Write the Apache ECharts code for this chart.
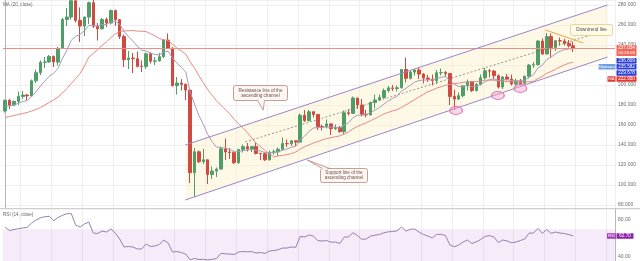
<!DOCTYPE html>
<html>
<head>
<meta charset="utf-8">
<script src="https://cdn.jsdelivr.net/npm/echarts@6.0.0/dist/echarts.min.js"></script>
<style>
html,body{margin:0;padding:0;background:#ffffff;overflow:hidden}
#chart{width:640px;height:261px}
</style>
</head>
<body>
<div id="chart"></div>
<script>
// ---------- data ----------
const categories = ['Jan 30','Jan 31',
'Feb 1','Feb 2','Feb 3','Feb 4','Feb 5','Feb 6','Feb 7','Feb 8','Feb 9','Feb 10','Feb 11','Feb 12','Feb 13','Feb 14','Feb 15','Feb 16','Feb 17','Feb 18','Feb 19','Feb 20','Feb 21','Feb 22','Feb 23','Feb 24','Feb 25','Feb 26','Feb 27','Feb 28','Feb 29',
'Mar 1','Mar 2','Mar 3','Mar 4','Mar 5','Mar 6','Mar 7','Mar 8','Mar 9','Mar 10','Mar 11','Mar 12','Mar 13','Mar 14','Mar 15','Mar 16','Mar 17','Mar 18','Mar 19','Mar 20','Mar 21','Mar 22','Mar 23','Mar 24','Mar 25','Mar 26','Mar 27','Mar 28','Mar 29','Mar 30','Mar 31',
'Apr 1','Apr 2','Apr 3','Apr 4','Apr 5','Apr 6','Apr 7','Apr 8','Apr 9','Apr 10','Apr 11','Apr 12','Apr 13','Apr 14','Apr 15','Apr 16','Apr 17','Apr 18','Apr 19','Apr 20','Apr 21','Apr 22','Apr 23','Apr 24','Apr 25','Apr 26','Apr 27','Apr 28','Apr 29','Apr 30',
'May 1','May 2','May 3','May 4','May 5','May 6','May 7','May 8','May 9','May 10','May 11','May 12','May 13','May 14','May 15','May 16','May 17','May 18','May 19','May 20','May 21','May 22','May 23','May 24','May 25','May 26','May 27','May 28','May 29','May 30','May 31',
'Jun 1','Jun 2','Jun 3','Jun 4','Jun 5','Jun 6','Jun 7','Jun 8','Jun 9','Jun 10','Jun 11','Jun 12','Jun 13','Jun 14','Jun 15','Jun 16'];

const openPrices = [174.0,184.7,179.9,183.6,188.6,189.9,189.1,204.2,212.3,222.7,223.1,228.6,222.9,236.7,265.4,268.0,284.2,264.7,258.9,267.9,282.3,258.8,256.2,265.5,262.0,274.4,265.3,248.4,225.3,227.0,226.3,218.7,218.6,231.2,223.8,224.1,228.3,244.9,237.0,199.4,202.0,200.7,194.9,112.3,133.2,123.3,125.2,110.6,113.9,115.9,136.2,133.0,132.5,122.3,135.6,138.3,136.1,138.4,131.6,131.3,125.2,132.4,133.2,135.7,141.4,141.2,144.2,142.9,169.7,164.4,173.2,170.6,158.4,158.1,161.1,156.3,157.6,153.3,172.2,171.6,186.9,180.0,170.8,170.1,182.5,185.0,187.5,194.4,197.1,196.4,197.2,215.5,206.7,212.9,215.0,210.9,206.9,205.8,204.3,212.3,212.4,211.5,188.6,185.9,189.3,199.2,203.2,194.5,200.7,207.2,214.2,213.9,209.3,198.0,208.0,206.0,201.0,204.1,201.5,208.7,219.9,220.3,243.9,231.0,248.4,237.5,244.3,244.0,241.6,239.2];
const closePrices = [184.7,179.9,183.6,188.6,189.9,189.1,204.2,212.3,222.7,223.1,228.6,222.9,236.7,265.4,268.0,284.2,264.7,258.9,267.9,282.3,258.8,256.2,265.5,262.0,274.4,265.3,248.4,225.3,227.0,226.3,218.7,218.6,231.2,223.8,224.1,228.3,244.9,237.0,199.4,202.0,200.7,194.9,112.3,133.2,123.3,125.2,110.6,113.9,115.9,136.2,133.0,132.5,122.3,135.6,138.3,136.1,138.4,131.6,131.3,125.2,132.4,133.2,135.7,141.4,141.2,144.2,142.9,169.7,164.4,173.2,170.6,158.4,158.1,161.1,156.3,157.6,153.3,172.2,171.6,186.9,180.0,170.8,170.1,182.5,185.0,187.5,194.4,197.1,196.4,197.2,215.5,206.7,212.9,215.0,210.9,206.9,205.8,204.3,212.3,212.4,211.5,188.6,185.9,189.3,199.2,203.2,194.5,200.7,207.2,214.2,213.9,209.3,198.0,208.0,206.0,201.0,204.1,201.5,208.7,219.9,220.3,243.9,231.0,248.4,237.5,244.3,244.0,241.6,239.2,237.05];
const highPrices = [185.5,186.0,184.5,193.5,194.0,191.0,205.5,215.5,224.5,228.0,230.0,229.5,238.0,267.0,277.0,286.0,289.0,277.5,268.5,283.5,285.5,262.0,267.0,267.5,275.5,275.5,266.0,250.5,234.0,232.0,233.5,224.5,232.5,232.5,228.0,232.0,245.5,251.5,237.5,208.0,206.0,201.5,195.5,137.0,134.5,136.0,125.5,118.5,117.5,138.5,146.5,137.0,134.5,136.0,140.5,142.0,139.0,142.0,132.0,132.0,134.5,135.5,137.5,147.5,145.5,145.0,144.5,171.5,175.0,175.0,174.0,170.8,160.5,165.5,161.5,160.5,159.0,174.5,175.5,188.5,187.5,186.0,175.0,183.5,190.5,190.5,196.5,199.0,200.0,199.5,216.0,227.5,214.5,216.0,218.0,212.0,210.0,210.5,215.0,216.5,214.0,212.0,195.5,192.5,200.0,205.5,204.0,202.0,210.5,217.0,216.0,215.0,210.5,209.0,211.0,210.5,206.5,206.0,209.5,221.0,223.0,245.0,246.5,252.0,251.5,245.0,247.5,246.0,245.0,243.5];
const lowPrices = [172.5,176.0,179.0,180.0,186.0,185.0,188.5,202.0,210.0,217.0,222.0,218.0,219.5,236.0,259.0,265.5,262.5,243.0,249.0,261.0,257.0,244.5,255.5,258.0,260.5,259.0,246.0,218.0,216.0,212.0,217.5,213.0,216.0,221.5,220.0,223.5,227.0,236.0,198.5,190.5,194.5,185.0,102.0,88.0,122.0,121.0,101.0,106.0,108.0,115.5,125.0,126.0,121.0,121.0,132.5,133.5,133.0,130.5,125.0,124.0,124.5,130.5,129.0,134.5,138.0,139.0,139.0,142.5,163.0,163.5,167.5,155.0,154.5,156.5,150.0,155.0,152.5,150.5,169.5,171.0,176.0,168.5,167.5,169.5,176.5,184.5,186.5,192.5,194.0,193.5,196.5,202.5,205.5,209.5,206.0,201.5,203.0,199.5,201.0,209.5,208.0,180.0,175.0,185.0,187.5,194.5,193.0,193.5,199.5,205.5,207.5,205.5,196.5,196.0,204.5,199.5,198.0,199.5,200.5,206.5,217.0,219.5,230.0,230.5,228.0,234.0,239.5,239.5,237.5,233.0];

// MA(20) values for the first 19 days (window starts before the visible range)
const ma20Lead = [167.5,168.5,169.5,170.5,171.5,172.5,174.0,175.5,177.5,180.0,182.5,185.0,188.0,192.0,196.5,201.5,206.5,211.5,219.0];
// EMA(9) value on the day before the first candle
const ema9Start = 177.5;

// RSI (14, close)
const rsiValues = [72.1,68.6,69.7,70.6,71.4,72.1,76.8,80.0,82.4,83.5,84.1,79.2,82.8,85.1,86.7,87.0,74.6,72.4,75.7,77.8,65.9,65.4,68.1,67.0,70.3,65.9,59.5,50.8,51.4,50.8,48.7,48.7,54.1,51.4,51.9,53.5,58.4,55.1,45.4,45.9,44.9,43.2,37.0,38.4,37.3,37.5,36.8,37.5,38.4,44.0,43.5,43.2,42.7,45.4,45.9,45.6,45.9,44.3,44.9,43.8,46.5,47.0,47.8,49.7,49.7,50.8,50.6,62.2,61.6,63.8,62.5,57.8,57.3,57.8,56.0,56.2,54.6,61.6,61.8,66.3,63.2,59.1,59.5,62.7,63.6,64.3,66.2,67.2,67.6,68.3,72.4,68.1,69.9,70.3,67.0,64.3,62.7,60.5,64.5,64.5,63.2,53.0,51.1,53.0,56.2,58.4,54.6,56.5,58.9,62.2,63.2,61.6,55.7,58.4,57.3,55.4,56.2,57.8,59.5,65.9,65.9,71.0,65.6,69.7,65.6,67.0,65.9,65.4,64.3,62.7];
const rsiBand = [70, 30];
const rsiTickLabels = [40, 80];

// right-axis price tags (values shown in the tags)
const lastPrice = 237.054;
const countdownText = '06:28:08';
const tagValues = [236.809, 235.582, 229.678, 222.950];
const tagNames = ['', 'Fibonacci', '', 'MA'];
const rsiTagText = 'RSI';

// drawings, in [day index, price]
const upperChannel = [[40.9, 140], [136.8, 280]];
const lowerChannel = [[40.9, 85], [136.8, 228]];
const midDashed = [[54.5, 143], [134.5, 252]];
const downtrendLine = [[122.7, 255], [131.3, 242]];
const touchMarks = [[102.4, 174.5], [111.9, 189.5], [117.0, 196.5]];
const calloutTexts = [['Resistance line of the', 'ascending channel'], ['Support line of the', 'ascending channel'], ['Downtrend line']];
const calloutAnchors = [[51.8, 200], [71.6, 117], [128.2, 261]];
const calloutTips = [[58.6, 175], [68.6, 125], null];

// ---------- indicators ----------
function movingAverage(src, n, lead) {
  return src.map((v, i) => {
    if (i < n - 1) return lead[i];
    const s = src.slice(i - n + 1, i + 1);
    return +(s.reduce((a, b) => a + b, 0) / n).toFixed(3);
  });
}
function expAverage(src, n, start) {
  const k = 2 / (n + 1); const out = []; let e = start;
  src.forEach((v) => { e = e + k * (v - e); out.push(+e.toFixed(3)); });
  return out;
}
const ma20 = movingAverage(closePrices, 20, ma20Lead);
const ema9 = expAverage(closePrices, 9, ema9Start);

const candleData = openPrices.map((o, i) => [o, closePrices[i], lowPrices[i], highPrices[i]]);
const N = categories.length;
const FONT = 'Liberation Sans, Arial, sans-serif';

const chart = echarts.init(document.getElementById('chart'), null, {renderer: 'canvas'});

const weekly = (idx) => idx % 7 === 4;
const xCat = (g) => ({
  type: 'category', gridIndex: g, data: categories, boundaryGap: true,
  axisLine: {show: false}, axisTick: {show: false}, axisLabel: {show: false},
  splitLine: {show: true, interval: weekly, lineStyle: {color: '#efefef', width: 1}}
});

function annotationsRender(params, api) {
  const P = (d) => api.coord(d);
  const ch = [];
  const lineEl = (a, b, color, w, dash) => ({type: 'line', shape: {x1: P(a)[0], y1: P(a)[1], x2: P(b)[0], y2: P(b)[1]},
    style: {stroke: color, lineWidth: w, lineDash: dash || null}});
  ch.push(lineEl(upperChannel[0], upperChannel[1], '#9a86c8', 1));
  ch.push(lineEl(lowerChannel[0], lowerChannel[1], '#9a86c8', 1));
  ch.push(lineEl(midDashed[0], midDashed[1], '#7a7a7a', 0.8, [2, 2]));
  ch.push(lineEl(downtrendLine[0], downtrendLine[1], '#f0a640', 1));
  touchMarks.forEach((m) => {
    const c = P(m);
    ch.push({type: 'circle', x: c[0], y: c[1], scaleX: 1.6, scaleY: 1, shape: {cx: 0, cy: 0, r: 4},
      style: {fill: 'rgba(244,164,205,0.45)', stroke: '#e07ab0', lineWidth: 0.8, strokeNoScale: true}});
  });
  const sizes = [[54, 15], [47, 14], [42, 11]];
  const styles = [
    {fill: '#fdf6f3', stroke: '#b9877c', text: '#6d5048'},
    {fill: '#fdf6f3', stroke: '#b9877c', text: '#6d5048'},
    {fill: '#fffbe9', stroke: '#e9c883', text: '#4b4b4b'}
  ];
  calloutTexts.forEach((lines, k) => {
    const a = P(calloutAnchors[k]);
    const bx = Math.round(a[0]) + 0.5, by = Math.round(a[1]) + 0.5;
    const w = sizes[k][0], h = sizes[k][1], st = styles[k];
    ch.push({type: 'rect', shape: {x: bx, y: by, width: w, height: h, r: 2}, style: {fill: st.fill, stroke: st.stroke, lineWidth: 0.8}});
    if (calloutTips[k]) {
      const t = P(calloutTips[k]);
      let b1, b2;
      if (k === 0) { b1 = [bx + 24, by + h]; b2 = [bx + 31, by + h]; }
      else { b1 = [bx + 2, by]; b2 = [bx + 9, by]; }
      ch.push({type: 'polygon', shape: {points: [[b1[0], b1[1] + (k === 0 ? -1 : 1)], t, [b2[0], b2[1] + (k === 0 ? -1 : 1)]]}, style: {fill: st.fill}});
      ch.push({type: 'polyline', shape: {points: [b1, t, b2]}, style: {stroke: st.stroke, lineWidth: 0.8, fill: null}});
    }
    const lh = 5.4;
    lines.forEach((txt, j) => {
      ch.push({type: 'text', x: bx + w / 2, y: by + h / 2 + (j - (lines.length - 1) / 2) * lh,
        style: {text: txt, fill: st.text, fontSize: 4.6, fontFamily: FONT, align: 'center', verticalAlign: 'middle'}});
    });
  });
  return {type: 'group', children: ch};
}

function channelFillRender(params, api) {
  const P0 = (d) => api.coord(d);
  const pts = [P0(upperChannel[0]), P0(upperChannel[1]), P0(lowerChannel[1]), P0(lowerChannel[0])];
  return {type: 'polygon', shape: {points: pts}, style: {fill: 'rgba(252,240,196,0.42)'}};
}

const option = {
  animation: false,
  backgroundColor: '#ffffff',
  grid: [
    {left: 3, right: 25, top: 0, height: 208},
    {left: 3, right: 25, top: 209, height: 52}
  ],
  xAxis: [xCat(0), xCat(1),
    {type: 'value', gridIndex: 0, min: -0.5, max: N - 0.5, show: false}],
  yAxis: [
    {type: 'value', gridIndex: 0, position: 'right', min: 77, max: 285, splitNumber: 10,
      axisLine: {show: true, lineStyle: {color: '#b8b8b8'}}, axisTick: {show: false},
      axisLabel: {fontSize: 5, color: '#6b6b6b', fontFamily: FONT, margin: 3, showMinLabel: false, showMaxLabel: false,
        formatter: (v) => v.toFixed(3)},
      splitLine: {show: true, lineStyle: {color: '#efefef'}}},
    {type: 'value', gridIndex: 1, position: 'right', min: 35.7, max: 91.9,
      axisLine: {show: true, lineStyle: {color: '#b8b8b8'}}, axisTick: {show: false},
      axisLabel: {fontSize: 5, color: '#6b6b6b', fontFamily: FONT, margin: 3, customValues: rsiTickLabels,
        formatter: (v) => v.toFixed(2)},
      splitLine: {show: false}}
  ],
  series: [
    {type: 'custom', name: 'channelFill', xAxisIndex: 2, yAxisIndex: 0, data: [[0, 100]], renderItem: channelFillRender, z: 1, silent: true},
    {type: 'candlestick', name: 'ETHUSD', xAxisIndex: 0, yAxisIndex: 0, data: candleData, barWidth: 3, z: 3,
      itemStyle: {color: '#4f9e68', color0: '#cf4a41', borderColor: '#4f9e68', borderColor0: '#cf4a41', borderWidth: 1},
      markLine: {silent: true, symbol: ['none', 'none'], label: {show: false},
        lineStyle: {color: '#ee8c86', width: 1, type: 'solid'}, data: [{yAxis: lastPrice}]}},
    {type: 'line', name: 'MA 20', xAxisIndex: 0, yAxisIndex: 0, data: ma20, symbol: 'none', z: 4,
      lineStyle: {color: '#e48a86', width: 1}},
    {type: 'line', name: 'EMA 9', xAxisIndex: 0, yAxisIndex: 0, data: ema9, symbol: 'none', z: 4,
      lineStyle: {color: '#a39cbc', width: 1}},
    {type: 'custom', name: 'drawings', xAxisIndex: 2, yAxisIndex: 0, data: [[0, 100]], renderItem: annotationsRender, z: 6, silent: true},
    {type: 'line', name: 'RSI', xAxisIndex: 1, yAxisIndex: 1, data: rsiValues, symbol: 'none', z: 4,
      lineStyle: {color: '#9482ac', width: 1},
      markArea: {silent: true, itemStyle: {color: 'rgba(186,104,200,0.13)'},
        data: [[{yAxis: rsiBand[0]}, {yAxis: rsiBand[1]}]]}}
  ]
};
chart.setOption(option);

// ---------- overlay texts and right-axis tags ----------
const yOf = (v) => chart.convertToPixel({yAxisIndex: 0}, v);
const yRsi = (v) => chart.convertToPixel({yAxisIndex: 1}, v);
const g = [];
g.push({type: 'rect', shape: {x: 0, y: 208, width: 640, height: 1.2}, style: {fill: '#cfcfcf'}, z: 50});
g.push({type: 'text', x: 3, y: 4.5, style: {text: 'MA (20, close)', fontSize: 4.6, fill: '#666', fontFamily: FONT, verticalAlign: 'middle'}, z: 50});
g.push({type: 'text', x: 3, y: 215, style: {text: 'RSI (14, close)', fontSize: 4.6, fill: '#666', fontFamily: FONT, verticalAlign: 'middle'}, z: 50});

const TX = 616.5, TW = 20;
let tagTop = Math.round(yOf(lastPrice) - 2.8);
g.push({type: 'rect', shape: {x: TX, y: tagTop, width: TW, height: 11, r: 0.5}, style: {fill: '#f0695c'}, z: 60});
g.push({type: 'text', x: TX + TW / 2, y: tagTop + 2.8, style: {text: lastPrice.toFixed(3), fontSize: 4.6, fill: '#fff', fontFamily: FONT, align: 'center', verticalAlign: 'middle'}, z: 61});
g.push({type: 'text', x: TX + TW / 2, y: tagTop + 8.2, style: {text: countdownText, fontSize: 4.3, fill: '#fff', fontFamily: FONT, align: 'center', verticalAlign: 'middle'}, z: 61});
let tagBottom = tagTop + 11 + 2;
const tagColors = ['#2b3fd6', '#2b3fd6', '#2b3fd6', '#e03a35'];
const nameColors = ['', '#6e9fe0', '', '#e03a35'];
tagValues.forEach((v, k) => {
  const t = Math.max(yOf(v) - 2.8, tagBottom);
  g.push({type: 'rect', shape: {x: TX, y: t, width: TW, height: 5.5, r: 0.5}, style: {fill: tagColors[k]}, z: 60});
  g.push({type: 'text', x: TX + TW / 2, y: t + 2.8, style: {text: v.toFixed(3), fontSize: 4.6, fill: '#fff', fontFamily: FONT, align: 'center', verticalAlign: 'middle'}, z: 61});
  if (tagNames[k]) {
    const w = tagNames[k].length > 3 ? 17 : 8;
    g.push({type: 'rect', shape: {x: TX - w - 1, y: t, width: w, height: 5.5, r: 0.5}, style: {fill: nameColors[k]}, z: 60});
    g.push({type: 'text', x: TX - 1 - w / 2, y: t + 2.8, style: {text: tagNames[k], fontSize: 4.2, fill: '#fff', fontFamily: FONT, align: 'center', verticalAlign: 'middle'}, z: 61});
  }
  tagBottom = t + 5.5 + 0.6;
});
const rsiLast = rsiValues[rsiValues.length - 1];
const rsiTagY = yRsi(rsiLast) - 2.8;
g.push({type: 'rect', shape: {x: 607, y: rsiTagY, width: 9, height: 5.5, r: 0.5}, style: {fill: '#a23bb5'}, z: 60});
g.push({type: 'text', x: 611.5, y: rsiTagY + 2.8, style: {text: rsiTagText, fontSize: 4.2, fill: '#fff', fontFamily: FONT, align: 'center', verticalAlign: 'middle'}, z: 61});
g.push({type: 'rect', shape: {x: TX, y: rsiTagY, width: 17, height: 5.5, r: 0.5}, style: {fill: '#8e24aa'}, z: 60});
g.push({type: 'text', x: TX + 8.5, y: rsiTagY + 2.8, style: {text: rsiLast.toFixed(2), fontSize: 4.6, fill: '#fff', fontFamily: FONT, align: 'center', verticalAlign: 'middle'}, z: 61});

chart.setOption({graphic: g});
</script>
</body>
</html>
